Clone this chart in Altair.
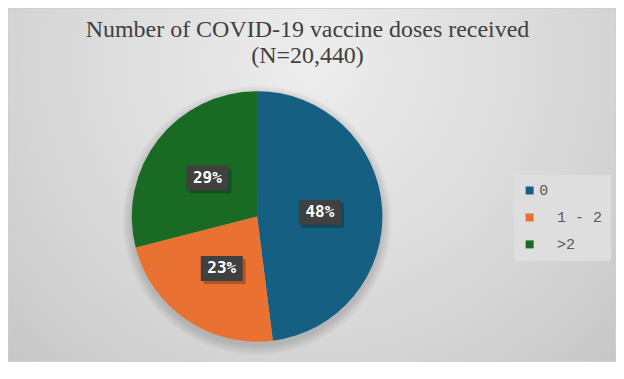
import altair as alt
import pandas as pd

categories = ["0", "1 - 2", ">2"]
shares = [48, 23, 29]
colors = ["#156082", "#E97132", "#196B24"]
title_lines = ["Number of COVID-19 vaccine doses received", "(N=20,440)"]

df = pd.DataFrame({"dose": categories, "share": shares, "idx": list(range(len(categories)))})
one = pd.DataFrame({"a": [0]})

W, H = 609, 354
CX, CY, R = 249.5, 208.5, 125.5
RL = 63

bg = alt.Chart(one).mark_rect(
    color=alt.Gradient(
        gradient="radial",
        stops=[alt.GradientStop(color="#EDEDED", offset=0),
               alt.GradientStop(color="#D6D6D6", offset=0.55),
               alt.GradientStop(color="#BDBDBD", offset=1)],
        x1=0.5, y1=0.3, x2=0.5, y2=0.3, r1=0, r2=0.85),
    stroke="#CFCFCF", strokeWidth=1,
).encode(x=alt.value(0), x2=alt.value(W), y=alt.value(0), y2=alt.value(H))

shadows = [
    alt.Chart(one).mark_arc(radius=R + k, theta=0, theta2=6.2832, color="#000000", opacity=0.03)
    .encode(x=alt.value(CX), y=alt.value(CY + 4))
    for k in (1, 3, 5, 7, 9)
]

pie = alt.Chart(df).mark_arc(radius=R).encode(
    theta=alt.Theta("share:Q", stack=True),
    color=alt.Color(
        "dose:N",
        scale=alt.Scale(domain=categories, range=colors),
        legend=alt.Legend(
            title=None, orient="none", legendX=507, legendY=167,
            symbolType="square", symbolSize=64, symbolStrokeWidth=0,
            labelFont="Liberation Mono", labelFontSize=15, labelColor="#595959",
            rowPadding=11, labelOffset=2, padding=8, fillColor="#DEDEDE",
            labelExpr="datum.value == '0' ? '0' : '\u200b\u00a0\u00a0' + datum.value",
        ),
    ),
    order=alt.Order("idx:Q"),
    x=alt.value(CX), y=alt.value(CY),
)

lab = alt.Chart(df).transform_window(
    cum="sum(share)", sort=[alt.SortField("idx")]
).transform_joinaggregate(total="sum(share)").transform_calculate(
    mid="(datum.cum - datum.share/2)/datum.total*2*PI",
).transform_calculate(
    lx=f"{CX} + {RL}*sin(datum.mid)",
    ly=f"{CY} - {RL}*cos(datum.mid)",
    pct="format(datum.share/datum.total, '.0%')",
).transform_calculate(
    bx0="datum.lx - 21", bx1="datum.lx + 21",
    by0="datum.ly - 12.5", by1="datum.ly + 12.5",
)

box_shadow = lab.mark_rect(color="#000000", opacity=0.25, xOffset=3, x2Offset=3, yOffset=3, y2Offset=3).encode(
    x=alt.X("bx0:Q", scale=None, axis=None), x2="bx1:Q",
    y=alt.Y("by0:Q", scale=None, axis=None), y2="by1:Q",
)
box = lab.mark_rect(color="#404040").encode(
    x=alt.X("bx0:Q", scale=None, axis=None), x2="bx1:Q",
    y=alt.Y("by0:Q", scale=None, axis=None), y2="by1:Q",
)
text = lab.mark_text(font="DejaVu Sans Mono", fontWeight="bold", fontSize=16, color="white",
                     align="center", baseline="middle").encode(
    x=alt.X("lx:Q", scale=None, axis=None),
    y=alt.Y("ly:Q", scale=None, axis=None),
    text="pct:N",
)

title = alt.Chart(one).mark_text(
    text=title_lines, font="Liberation Serif", fontSize=24, color="#404040",
    lineHeight=26, align="center", baseline="alphabetic",
).encode(x=alt.value(300), y=alt.value(29))

chart = alt.layer(bg, *shadows, pie, box_shadow, box, text, title).properties(
    width=W, height=H, padding=0, autosize="none"
).configure_view(strokeWidth=0).configure(background="white")

chart.save("out.html", embed_options={"renderer": "svg", "actions": False})
